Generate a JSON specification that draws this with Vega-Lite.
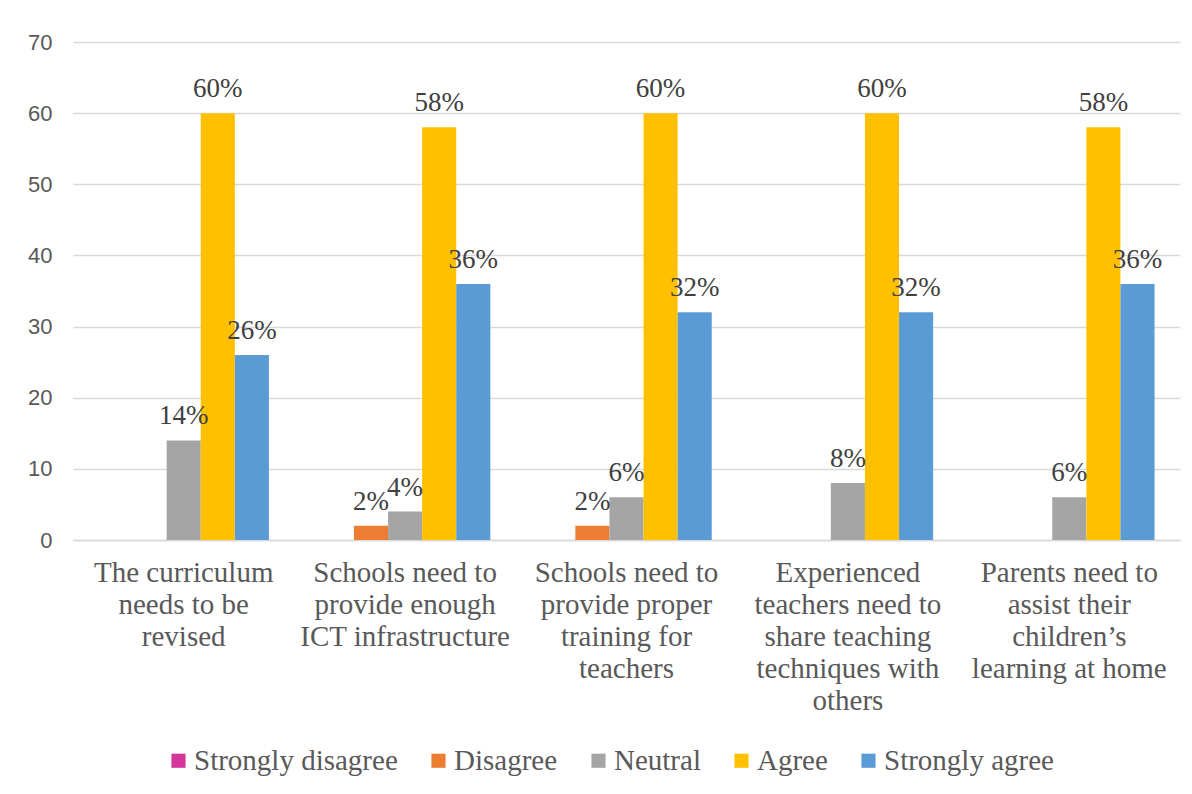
{
  "$schema": "https://vega.github.io/schema/vega-lite/v6.json",
  "width": 1107,
  "height": 498,
  "autosize": {"type": "none"},
  "padding": {"left": 73, "top": 42, "right": 12, "bottom": 254},
  "background": "white",
  "config": {"view": {"stroke": null}},
  "data": {
    "values": [
      {"statement": "The curriculum\nneeds to be\nrevised", "response": "Strongly disagree", "value": 0},
      {"statement": "The curriculum\nneeds to be\nrevised", "response": "Disagree", "value": 0},
      {"statement": "The curriculum\nneeds to be\nrevised", "response": "Neutral", "value": 14},
      {"statement": "The curriculum\nneeds to be\nrevised", "response": "Agree", "value": 60},
      {"statement": "The curriculum\nneeds to be\nrevised", "response": "Strongly agree", "value": 26},
      {"statement": "Schools need to\nprovide enough\nICT infrastructure", "response": "Strongly disagree", "value": 0},
      {"statement": "Schools need to\nprovide enough\nICT infrastructure", "response": "Disagree", "value": 2},
      {"statement": "Schools need to\nprovide enough\nICT infrastructure", "response": "Neutral", "value": 4},
      {"statement": "Schools need to\nprovide enough\nICT infrastructure", "response": "Agree", "value": 58},
      {"statement": "Schools need to\nprovide enough\nICT infrastructure", "response": "Strongly agree", "value": 36},
      {"statement": "Schools need to\nprovide proper\ntraining for\nteachers", "response": "Strongly disagree", "value": 0},
      {"statement": "Schools need to\nprovide proper\ntraining for\nteachers", "response": "Disagree", "value": 2},
      {"statement": "Schools need to\nprovide proper\ntraining for\nteachers", "response": "Neutral", "value": 6},
      {"statement": "Schools need to\nprovide proper\ntraining for\nteachers", "response": "Agree", "value": 60},
      {"statement": "Schools need to\nprovide proper\ntraining for\nteachers", "response": "Strongly agree", "value": 32},
      {"statement": "Experienced\nteachers need to\nshare teaching\ntechniques with\nothers", "response": "Strongly disagree", "value": 0},
      {"statement": "Experienced\nteachers need to\nshare teaching\ntechniques with\nothers", "response": "Disagree", "value": 0},
      {"statement": "Experienced\nteachers need to\nshare teaching\ntechniques with\nothers", "response": "Neutral", "value": 8},
      {"statement": "Experienced\nteachers need to\nshare teaching\ntechniques with\nothers", "response": "Agree", "value": 60},
      {"statement": "Experienced\nteachers need to\nshare teaching\ntechniques with\nothers", "response": "Strongly agree", "value": 32},
      {"statement": "Parents need to\nassist their\nchildren’s\nlearning at home", "response": "Strongly disagree", "value": 0},
      {"statement": "Parents need to\nassist their\nchildren’s\nlearning at home", "response": "Disagree", "value": 0},
      {"statement": "Parents need to\nassist their\nchildren’s\nlearning at home", "response": "Neutral", "value": 6},
      {"statement": "Parents need to\nassist their\nchildren’s\nlearning at home", "response": "Agree", "value": 58},
      {"statement": "Parents need to\nassist their\nchildren’s\nlearning at home", "response": "Strongly agree", "value": 36}
    ]
  },
  "encoding": {
    "x": {
      "field": "statement",
      "type": "nominal",
      "sort": null,
      "scale": {"paddingInner": 0.23, "paddingOuter": 0.115},
      "axis": {
        "title": null,
        "labelAngle": 0,
        "labelExpr": "split(datum.label, '\\n')",
        "labelFont": "Liberation Serif",
        "labelFontSize": 29,
        "labelColor": "#595959",
        "labelLineHeight": 32,
        "labelPadding": 18,
        "labelLimit": 300,
        "ticks": false,
        "domainColor": "#d9d9d9",
        "domainWidth": 1.5,
        "grid": false
      }
    },
    "xOffset": {
      "field": "response",
      "type": "nominal",
      "sort": ["Strongly disagree", "Disagree", "Neutral", "Agree", "Strongly agree"],
      "scale": {"paddingInner": 0, "paddingOuter": 0}
    },
    "y": {
      "field": "value",
      "type": "quantitative",
      "scale": {"domain": [0, 70]},
      "axis": {
        "title": null,
        "values": [0, 10, 20, 30, 40, 50, 60, 70],
        "labelFont": "Liberation Sans",
        "labelFontSize": 22,
        "labelColor": "#595959",
        "labelPadding": 21,
        "ticks": false,
        "domain": false,
        "gridColor": "#d9d9d9",
        "gridWidth": 1.5
      }
    }
  },
  "layer": [
    {
      "mark": {"type": "bar"},
      "encoding": {
        "color": {
          "field": "response",
          "type": "nominal",
          "sort": ["Strongly disagree", "Disagree", "Neutral", "Agree", "Strongly agree"],
          "scale": {
            "domain": ["Strongly disagree", "Disagree", "Neutral", "Agree", "Strongly agree"],
            "range": ["#D6359C", "#ED7D31", "#A5A5A5", "#FFC000", "#5B9BD5"]
          },
          "legend": {
            "title": null,
            "orient": "none",
            "legendX": 91,
            "legendY": 704,
            "direction": "horizontal",
            "symbolType": "square",
            "symbolSize": 200,
            "symbolStrokeWidth": 0,
            "symbolOpacity": 1,
            "labelFont": "Liberation Serif",
            "labelFontSize": 29,
            "labelColor": "#595959",
            "labelOffset": 1,
            "labelLimit": 400,
            "columnPadding": 26,
            "padding": 0
          }
        }
      }
    },
    {
      "transform": [
        {"filter": "datum.value > 0"},
        {"calculate": "datum.value + '%'", "as": "label"}
      ],
      "mark": {
        "type": "text",
        "font": "Liberation Serif",
        "fontSize": 27,
        "color": "#404040",
        "baseline": "alphabetic",
        "dy": -16
      },
      "encoding": {
        "text": {"field": "label"}
      }
    }
  ]
}
